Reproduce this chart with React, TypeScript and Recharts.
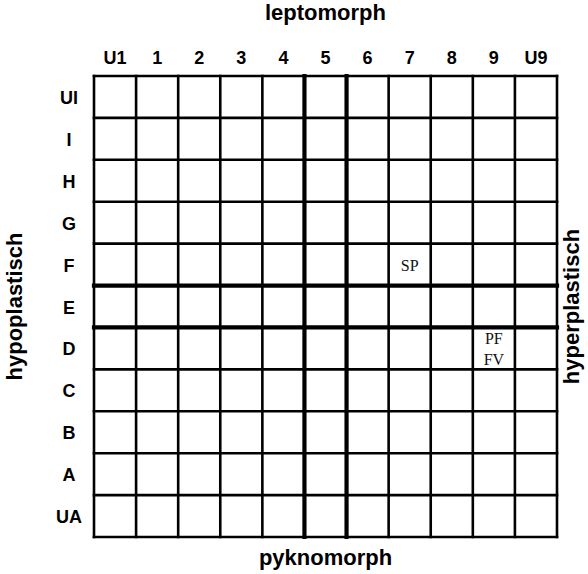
import React from 'react';
import { ScatterChart, Scatter, XAxis, YAxis, ReferenceLine, Label } from 'recharts';

// Column / row classes of the grid
const columnLabels = ['U1', '1', '2', '3', '4', '5', '6', '7', '8', '9', 'U9'];
const rowLabels = ['UI', 'I', 'H', 'G', 'F', 'E', 'D', 'C', 'B', 'A', 'UA'];

// middle column and row get the heavy frame
const centerColumn = '5';
const centerRow = 'E';

// entries written into cells
const entryColumns = ['7', '9'];
const entryRows = ['F', 'D'];
const entryTexts = [['SP'], ['PF', 'FV']];

const titleTop = 'leptomorph';
const titleBottom = 'pyknomorph';
const titleLeft = 'hypoplastisch';
const titleRight = 'hyperplastisch';

const sansBold = { fontFamily: '"Liberation Sans", Arial, sans-serif', fontWeight: 700, fill: '#000' };

const ColumnTick = ({ x, y, payload }: any) => (
  <text x={x} y={y} textAnchor="middle" fontSize={18} style={sansBold}>
    {columnLabels[Math.floor(payload.value)]}
  </text>
);

const RowTick = ({ x, y, payload }: any) => (
  <text x={x} y={y + 7} textAnchor="middle" fontSize={18} style={sansBold}>
    {rowLabels[Math.floor(payload.value)]}
  </text>
);

// Title drawn against the axis box it belongs to
const AxisTitle = ({ viewBox, value, side }: any) => {
  const { x, y, width, height } = viewBox;
  if (side === 'top') {
    return <text x={x + width / 2} y={y + 20} textAnchor="middle" fontSize={22} style={sansBold}>{value}</text>;
  }
  if (side === 'bottom') {
    return <text x={x + width / 2} y={y + 28} textAnchor="middle" fontSize={22} style={sansBold}>{value}</text>;
  }
  const tx = x + 22;
  const ty = y + height / 2;
  return (
    <text x={tx} y={ty} textAnchor="middle" fontSize={22} style={sansBold} transform={`rotate(-90 ${tx} ${ty})`}>
      {value}
    </text>
  );
};

const CellText = ({ cx, cy, payload }: any) => {
  const lines: string[] = payload.lines;
  return (
    <g>
      {lines.map((t, i) => (
        <text
          key={t}
          x={cx}
          y={cy + (i - (lines.length - 1) / 2) * 21 + 6}
          textAnchor="middle"
          fontSize={16}
          fontFamily='"Liberation Serif", "Times New Roman", serif'
          fill="#111"
        >
          {t}
        </text>
      ))}
    </g>
  );
};

export default function App() {
  const entries = entryTexts.map((lines, i) => ({
    x: columnLabels.indexOf(entryColumns[i]) + 0.5,
    y: rowLabels.indexOf(entryRows[i]) + 0.5,
    lines,
  }));

  const cIdx = columnLabels.indexOf(centerColumn);
  const rIdx = rowLabels.indexOf(centerRow);
  const vLines = Array.from({ length: columnLabels.length + 1 }, (_, i) => i);
  const hLines = Array.from({ length: rowLabels.length + 1 }, (_, i) => i);
  const colTicks = columnLabels.map((_, i) => i + 0.5);
  const rowTicks = rowLabels.map((_, i) => i + 0.5);

  return (
    <div style={{ position: 'absolute', left: 0, top: 0, background: '#fff' }}>
      <ScatterChart width={588} height={574} margin={{ top: 0, right: 0, bottom: 0, left: 0 }}>
        <XAxis
          type="number"
          dataKey="x"
          orientation="top"
          domain={[0, columnLabels.length]}
          ticks={colTicks}
          interval={0}
          height={76}
          axisLine={false}
          tickLine={false}
          tickSize={0}
          tickMargin={12}
          tick={<ColumnTick />}
        >
          <Label value={titleTop} content={<AxisTitle side="top" />} />
        </XAxis>
        <XAxis
          xAxisId="b"
          type="number"
          orientation="bottom"
          domain={[0, columnLabels.length]}
          height={37}
          axisLine={false}
          tickLine={false}
          tick={false}
        >
          <Label value={titleBottom} content={<AxisTitle side="bottom" />} />
        </XAxis>
        <YAxis
          type="number"
          dataKey="y"
          reversed
          domain={[0, rowLabels.length]}
          ticks={rowTicks}
          interval={0}
          width={94}
          axisLine={false}
          tickLine={false}
          tickSize={0}
          tickMargin={25}
          tick={<RowTick />}
        >
          <Label value={titleLeft} content={<AxisTitle side="left" />} />
        </YAxis>
        <YAxis
          yAxisId="r"
          type="number"
          orientation="right"
          reversed
          domain={[0, rowLabels.length]}
          width={31}
          axisLine={false}
          tickLine={false}
          tick={false}
        >
          <Label value={titleRight} content={<AxisTitle side="right" />} />
        </YAxis>

        {vLines.map((i) => (
          <ReferenceLine
            key={`v${i}`}
            x={i}
            stroke="#000"
            strokeWidth={i === cIdx || i === cIdx + 1 ? 4.2 : 2.6}
            strokeLinecap="square"
          />
        ))}
        {hLines.map((i) => (
          <ReferenceLine
            key={`h${i}`}
            y={i}
            stroke="#000"
            strokeWidth={i === rIdx || i === rIdx + 1 ? 4.2 : 2.6}
            strokeLinecap="square"
          />
        ))}

        <Scatter data={entries} shape={<CellText />} isAnimationActive={false} />
      </ScatterChart>
    </div>
  );
}
